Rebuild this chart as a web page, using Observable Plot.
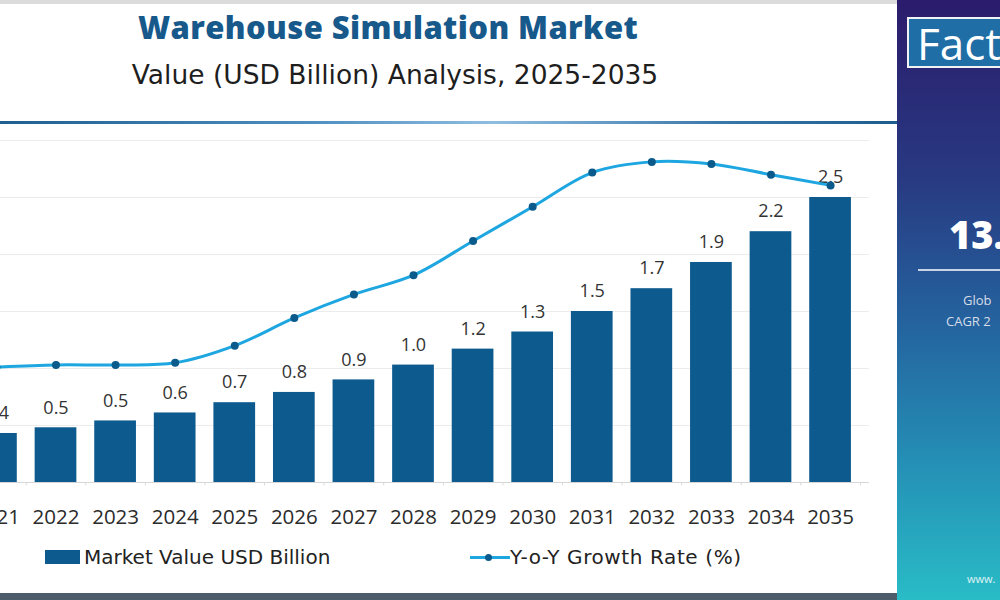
<!DOCTYPE html>
<html>
<head>
<meta charset="utf-8">
<script src="https://cdn.jsdelivr.net/npm/d3@7"></script>
<script src="https://cdn.jsdelivr.net/npm/@observablehq/plot@0.6"></script>
<style>
  html, body { margin: 0; padding: 0; width: 1000px; height: 600px; overflow: hidden; background: #fff; font-family: "Open Sans", sans-serif; }
  #page { position: relative; width: 1000px; height: 600px; overflow: hidden; background: #fff; }
  #topband { position: absolute; left: 0; top: 0; width: 897px; height: 4px; background: #dcdcdc; }
  #title { position: absolute; left: 0; width: 776px; top: 6px; text-align: center; font-size: 31px; font-weight: 800; color: #17598b; letter-spacing: 0.4px; white-space: nowrap; }
  #subtitle { position: absolute; left: 0; width: 790px; top: 60px; text-align: center; font-family: "DejaVu Sans", sans-serif; font-size: 26.5px; line-height: 1.16; font-weight: 400; color: #1e1e1e; white-space: nowrap; }
  #sep { position: absolute; left: 0; top: 121px; width: 897px; height: 3px; background: linear-gradient(90deg, #1f5f8f 0%, #4f8fc0 35%, #8fbde0 55%, #3b78aa 80%, #1d5c8b 100%); }
  #chart { position: absolute; left: -60px; top: 125px; }
  #legend { position: absolute; top: 544px; left: 0; width: 897px; height: 28px; font-family: "DejaVu Sans", sans-serif; font-size: 20px; line-height: 1.16; color: #222; white-space: nowrap; }
  .sw-bar { position: absolute; left: 45px; top: 6px; width: 35px; height: 14px; background: #0d5a8f; }
  .lg1 { position: absolute; left: 84px; top: 2px; }
  .sw-line { position: absolute; left: 470px; top: 11.5px; width: 40px; height: 3px; background: #1ea6e0; }
  .sw-dot { position: absolute; left: 485px; top: 9.5px; width: 7px; height: 7px; border-radius: 50%; background: #0b5a8c; }
  .lg2 { position: absolute; left: 510px; top: 2px; letter-spacing: 0.6px; }
  #bottomband { position: absolute; left: 0; top: 593px; width: 897px; height: 7px; background: #4e5d6c; }
  #panel { position: absolute; left: 897px; top: 0; width: 103px; height: 600px; background: linear-gradient(180deg, #2b1c6c 0%, #283a82 30%, #2465a0 55%, #2595b8 80%, #29bcc6 100%); }
  #factbox { position: absolute; left: 10px; top: 17px; width: 110px; height: 51px; background: #1f6ea6; border: 2px solid #f2f2f2; box-sizing: border-box; }
  #factbox span { position: absolute; left: 8px; top: -6px; font-size: 44px; color: #fff; font-family: "Open Sans", sans-serif; }
  #cagr { position: absolute; left: 52px; top: 208px; font-size: 38px; font-weight: 800; color: #fff; font-family: "Open Sans", sans-serif; white-space: nowrap; }
  #pline { position: absolute; left: 21px; top: 269px; width: 90px; height: 2px; background: #c9d4e6; }
  #glob { position: absolute; left: 66px; top: 291px; font-size: 13px; color: #d8dde8; font-family: "Open Sans", sans-serif; white-space: nowrap; }
  #cagrt { position: absolute; left: 49px; top: 312px; font-size: 13px; color: #d8dde8; font-family: "Open Sans", sans-serif; white-space: nowrap; }
  #www { position: absolute; left: 70px; top: 571px; font-size: 11px; color: #e0f4f6; font-family: "Open Sans", sans-serif; white-space: nowrap; }
</style>
</head>
<body>
<div id="page">
  <div id="topband"></div>
  <div id="title">Warehouse Simulation Market</div>
  <div id="subtitle">Value (USD Billion) Analysis, 2025-2035</div>
  <div id="sep"></div>
  <div id="chart"></div>
  <div id="legend">
    <div class="sw-bar"></div><div class="lg1">Market Value USD Billion</div>
    <div class="sw-line"></div><div class="sw-dot"></div><div class="lg2">Y-o-Y Growth Rate (%)</div>
  </div>
  <div id="bottomband"></div>
  <div id="panel">
    <div id="factbox"><span>Fact</span></div>
    <div id="cagr">13.</div>
    <div id="pline"></div>
    <div id="glob">Glob</div>
    <div id="cagrt">CAGR 2</div>
    <div id="www">www.</div>
  </div>
</div>
<script>
// Data
const years = ["2021","2022","2023","2024","2025","2026","2027","2028","2029","2030","2031","2032","2033","2034","2035"];
const marketValue = [0.43, 0.48, 0.54, 0.61, 0.70, 0.79, 0.90, 1.03, 1.17, 1.32, 1.50, 1.70, 1.93, 2.20, 2.50];
const growthRate = [5.4, 5.5, 5.5, 5.6, 6.4, 7.7, 8.8, 9.7, 11.3, 12.9, 14.5, 15.0, 14.9, 14.4, 13.9];
const growthAxisMax = 16; // hidden secondary axis for growth rate (%)
const valueAxisMax = 3;

const rows = years.map((y, i) => ({year: y, value: marketValue[i], growth: growthRate[i], growthScaled: growthRate[i] * valueAxisMax / growthAxisMax}));

const chart = Plot.plot({
  width: 940,
  height: 407,
  marginLeft: 17.2,
  marginRight: 11.2,
  marginTop: 15,
  marginBottom: 50,
  style: {fontFamily: "Open Sans, sans-serif", background: "transparent"},
  x: {type: "band", domain: years, padding: 0.3, round: false, label: null},
  y: {domain: [0, valueAxisMax], axis: null},
  marks: [
    Plot.gridY({ticks: 6, stroke: "#ececec", strokeOpacity: 1}),
    Plot.barY(rows, {x: "year", y: "value", fill: "#0d5a8f"}),
    Plot.ruleY([0], {stroke: "#d6d6d6", strokeWidth: 1.2}),
    Plot.ruleX(years, {x: d => d, y1: 0, y2: -0.03, dx: 29.8, stroke: "#d9d9d9"}),
    Plot.axisX({tickSize: 0, tickPadding: 27, fontSize: 20.5, fill: "#2b2b2b"}),
    Plot.text(rows, {x: "year", y: "value", text: d => d3.format(".1f")(d.value), dy: -20, fontSize: 18, fill: "#333"}),
    Plot.line(rows, {x: "year", y: "growthScaled", stroke: "#1ea6e0", strokeWidth: 3, curve: "catmull-rom"}),
    Plot.dot(rows, {x: "year", y: "growthScaled", r: 4, fill: "#0b5a8c", stroke: "none"})
  ]
});
document.getElementById("chart").appendChild(chart);
</script>
</body>
</html>
